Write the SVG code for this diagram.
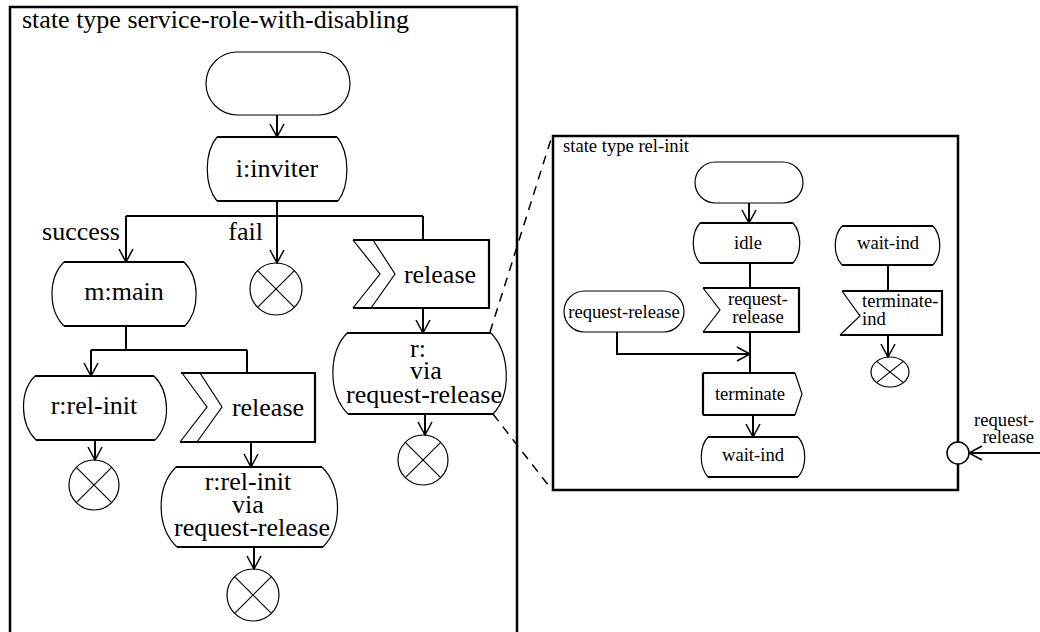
<svg xmlns="http://www.w3.org/2000/svg" width="1040" height="632" viewBox="0 0 1040 632">
<defs>
<style>
.frame{fill:none;stroke:#000;stroke-width:2.5}
.thick{fill:none;stroke:#000;stroke-width:2.2}
.thin{fill:none;stroke:#000;stroke-width:1.2}
.conn{fill:none;stroke:#000;stroke-width:2}
.dash{fill:none;stroke:#000;stroke-width:1.5;stroke-dasharray:9 7}
.t{font-family:"Liberation Serif","Times New Roman",serif;font-size:26px;fill:#000}
.ts{font-family:"Liberation Serif","Times New Roman",serif;font-size:18.6px;fill:#000}
.m{text-anchor:middle}
.e{text-anchor:end}
</style>
<marker id="arr" viewBox="-15 -8 16 16" refX="0" refY="0" markerWidth="16" markerHeight="16" orient="auto" markerUnits="userSpaceOnUse">
<path d="M-13,-7 L0,0 L-13,7" fill="none" stroke="#000" stroke-width="1.5"/>
</marker>
</defs>
<rect width="1040" height="632" fill="#fff"/>

<g id="frame-main">
<rect class="frame" x="10" y="7" width="507" height="640"/>
<text class="t" x="22" y="28">state type service-role-with-disabling</text>
</g>

<g id="start-main">
<rect class="thin" x="206" y="52" width="144" height="63" rx="31.5"/>
</g>

<g id="inviter">
<path class="thick" d="M217,137 H337 M217,201 H338"/>
<path class="thin" d="M217,137 C204,153 204,185 217,201 M337,137 C350,153 350,185 338,201"/>
<text class="t m" x="277" y="177">i:inviter</text>
</g>

<g id="main">
<path class="thick" d="M64,262 H184 M64,326 H185"/>
<path class="thin" d="M64,262 C48,278 48,310 64,326 M184,262 C200,278 200,310 185,326"/>
<text class="t m" x="124" y="300">m:main</text>
</g>

<g id="stop-fail">
<circle class="thin" cx="276" cy="289" r="26"/>
<path class="thin" d="M257.6,270.6 L294.4,307.4 M294.4,270.6 L257.6,307.4"/>
</g>

<g id="release-1">
<path class="thick" d="M353,240 H489 V308 H353"/>
<path class="thin" d="M353,240 L380,274 L353,308 M373,240 L395,274 L371,308"/>
<text class="t m" x="440" y="283">release</text>
</g>

<g id="r-via">
<path class="thick" d="M347,333 H491 M348,414 H493"/>
<path class="thin" d="M347,333 C328,353 328,394 348,414 M491,333 C510,353 512,394 493,414"/>
<text class="t m" x="418" y="357">r:</text>
<text class="t m" x="426" y="379">via</text>
<text class="t m" x="424" y="403">request-release</text>
</g>

<g id="stop-r">
<circle class="thin" cx="423" cy="460" r="25"/>
<path class="thin" d="M405.3,442.3 L440.7,477.7 M440.7,442.3 L405.3,477.7"/>
</g>

<g id="rel-init">
<path class="thick" d="M35,376 H154 M36,440 H155"/>
<path class="thin" d="M35,376 C19,392 20,424 36,440 M154,376 C170,392 171,424 155,440"/>
<text class="t m" x="94" y="414">r:rel-init</text>
</g>

<g id="stop-rel-init">
<circle class="thin" cx="94" cy="485" r="25"/>
<path class="thin" d="M76.3,467.3 L111.7,502.7 M111.7,467.3 L76.3,502.7"/>
</g>

<g id="release-2">
<path class="thick" d="M181,373 H315 V442 H180"/>
<path class="thin" d="M182,373 L207,407 L180,442 M200,373 L222,407 L197,442"/>
<text class="t m" x="268" y="416">release</text>
</g>

<g id="rel-init-via">
<path class="thick" d="M176,467 H322 M177,547 H323"/>
<path class="thin" d="M176,467 C156,487 156,527 177,547 M322,467 C342,487 343,527 323,547"/>
<text class="t m" x="248" y="490">r:rel-init</text>
<text class="t m" x="248" y="513">via</text>
<text class="t m" x="252" y="536">request-release</text>
</g>

<g id="stop-rel-init-via">
<circle class="thin" cx="253" cy="595" r="26"/>
<path class="thin" d="M234.6,576.6 L271.4,613.4 M271.4,576.6 L234.6,613.4"/>
</g>

<g id="labels">
<text class="t e" x="120" y="240">success</text>
<text class="t e" x="263" y="240">fail</text>
</g>

<g id="frame-rel-init">
<rect class="frame" x="553" y="136" width="405" height="354"/>
<text class="ts" x="563" y="152">state type rel-init</text>
</g>

<g id="start-inner">
<rect class="thin" x="695" y="162" width="108" height="41" rx="20.5"/>
</g>

<g id="idle">
<path class="thick" d="M700,223 H793 M700,263 H793"/>
<path class="thin" d="M700,223 C691,233 691,253 700,263 M793,223 C802,233 802,253 793,263"/>
<text class="ts m" x="748" y="249">idle</text>
</g>

<g id="in-request-release">
<path class="thick" d="M703,288 H799 V332 H703"/>
<path class="thin" d="M703,288 L720,310 L703,332"/>
<text class="ts m" x="758" y="305">request-</text>
<text class="ts m" x="758" y="323">release</text>
</g>

<g id="entry-request-release">
<rect class="thin" x="564" y="291" width="120" height="41" rx="20.5"/>
<text class="ts m" x="624" y="318">request-release</text>
</g>

<g id="out-terminate">
<path class="thick" d="M703,373 H795 M703,415 H795 M703,373 V415"/>
<path class="thin" d="M795,373 L802,394 L795,415"/>
<text class="ts m" x="750" y="400">terminate</text>
</g>

<g id="wait-ind-1">
<path class="thick" d="M708,437 H798 M708,477 H798"/>
<path class="thin" d="M708,437 C699,447 699,467 708,477 M798,437 C807,447 807,467 798,477"/>
<text class="ts m" x="753" y="461">wait-ind</text>
</g>

<g id="wait-ind-2">
<path class="thick" d="M842,226 H933 M842,265 H933"/>
<path class="thin" d="M842,226 C833,236 833,255 842,265 M933,226 C942,236 942,255 933,265"/>
<text class="ts m" x="888" y="249">wait-ind</text>
</g>

<g id="in-terminate-ind">
<path class="thick" d="M842,291 H942 V335 H840"/>
<path class="thin" d="M842,291 L860,316 L840,335"/>
<text class="ts" x="862" y="307">terminate-</text>
<text class="ts" x="862" y="325">ind</text>
</g>

<g id="stop-inner">
<ellipse class="thin" cx="890" cy="372" rx="19" ry="15"/>
<path class="thin" d="M876.6,361.4 L903.4,382.6 M903.4,361.4 L876.6,382.6"/>
</g>

<g id="port">
<circle cx="958" cy="453" r="11" fill="#fff" stroke="#000" stroke-width="1.5"/>
<text class="ts e" x="1034" y="426">request-</text>
<text class="ts e" x="1034" y="443">release</text>
</g>

<g id="connectors">
<path class="conn" d="M277,115 V137" marker-end="url(#arr)"/>
<path class="conn" d="M277,201 V216"/>
<path class="conn" d="M126,216 H423"/>
<path class="conn" d="M126,216 V262" marker-end="url(#arr)"/>
<path class="conn" d="M277,216 V263" marker-end="url(#arr)"/>
<path class="conn" d="M423,216 V240"/>
<path class="conn" d="M423,308 V333" marker-end="url(#arr)"/>
<path class="conn" d="M425,414 V435" marker-end="url(#arr)"/>
<path class="conn" d="M126,326 V350"/>
<path class="conn" d="M91,350 H247"/>
<path class="conn" d="M91,350 V376" marker-end="url(#arr)"/>
<path class="conn" d="M247,350 V373"/>
<path class="conn" d="M95,440 V460" marker-end="url(#arr)"/>
<path class="conn" d="M251,442 V467" marker-end="url(#arr)"/>
<path class="conn" d="M254,547 V569" marker-end="url(#arr)"/>
<path class="dash" d="M490,332 L552,136"/>
<path class="dash" d="M493,414 L552,490"/>
<path class="conn" d="M749,203 V223" marker-end="url(#arr)"/>
<path class="conn" d="M750,263 V288"/>
<path class="conn" d="M750,332 V373"/>
<path class="conn" d="M617,332 V354 H750" marker-end="url(#arr)"/>
<path class="conn" d="M753,415 V437" marker-end="url(#arr)"/>
<path class="conn" d="M888,265 V291"/>
<path class="conn" d="M888,335 V357" marker-end="url(#arr)"/>
<path class="conn" d="M1040,453 H969" marker-end="url(#arr)"/>
</g>
</svg>
